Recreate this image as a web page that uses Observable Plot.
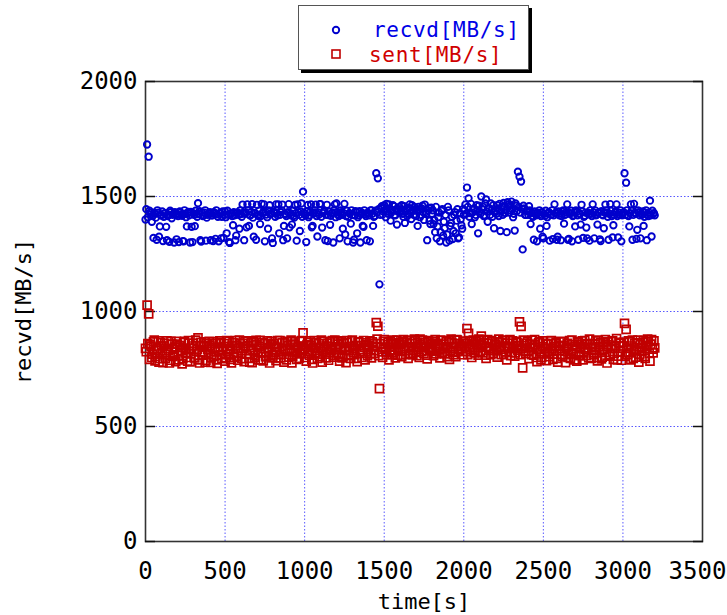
<!DOCTYPE html>
<html>
<head>
<meta charset="utf-8">
<script src="https://cdn.jsdelivr.net/npm/d3@7"></script>
<script src="https://cdn.jsdelivr.net/npm/@observablehq/plot@0.6"></script>
<style>
  html, body { margin: 0; padding: 0; background: #fff; }
  #wrap { position: relative; width: 727px; height: 615px; }
  #legend {
    position: absolute; left: 298px; top: 5px; width: 229px; height: 63px;
    background: #fff; border: 1px solid #555; box-shadow: 3px 3px 0 #000;
    font-family: "DejaVu Sans Mono", monospace; font-size: 21px; letter-spacing: 0.7px; line-height: 20px;
  }
  #legend .row { position: absolute; left: 0; white-space: nowrap; }
  #legend svg { position: absolute; }
</style>
</head>
<body>
<div id="wrap">
  <div id="chart"></div>
  <div id="legend">
    <svg style="left:30px;top:17px" width="14" height="14"><circle cx="7" cy="7" r="3.2" fill="none" stroke="#0000cc" stroke-width="1.9"/></svg>
    <span class="row" style="left:74px;top:14px;color:#0000e6">recvd[MB/s]</span>
    <svg style="left:30px;top:41px" width="14" height="14"><rect x="3" y="3" width="8" height="8" fill="none" stroke="#c00000" stroke-width="1.6"/></svg>
    <span class="row" style="left:70px;top:39px;color:#d00000">sent[MB/s]</span>
  </div>
</div>
<script>
const times = [
0,10,20,30,40,50,60,70,80,90,100,110,120,130,140,150,160,170,180,190,
200,210,220,230,240,250,260,270,280,290,300,310,320,330,340,350,360,370,380,390,
400,410,420,430,440,450,460,470,480,490,500,510,520,530,540,550,560,570,580,590,
600,610,620,630,640,650,660,670,680,690,700,710,720,730,740,750,760,770,780,790,
800,810,820,830,840,850,860,870,880,890,900,910,920,930,940,950,960,970,980,990,
1000,1010,1020,1030,1040,1050,1060,1070,1080,1090,1100,1110,1120,1130,1140,1150,1160,1170,1180,1190,
1200,1210,1220,1230,1240,1250,1260,1270,1280,1290,1300,1310,1320,1330,1340,1350,1360,1370,1380,1390,
1400,1410,1420,1430,1440,1450,1460,1470,1480,1490,1500,1510,1520,1530,1540,1550,1560,1570,1580,1590,
1600,1610,1620,1630,1640,1650,1660,1670,1680,1690,1700,1710,1720,1730,1740,1750,1760,1770,1780,1790,
1800,1810,1820,1830,1840,1850,1860,1870,1880,1890,1900,1910,1920,1930,1940,1950,1960,1970,1980,1990,
2000,2010,2020,2030,2040,2050,2060,2070,2080,2090,2100,2110,2120,2130,2140,2150,2160,2170,2180,2190,
2200,2210,2220,2230,2240,2250,2260,2270,2280,2290,2300,2310,2320,2330,2340,2350,2360,2370,2380,2390,
2400,2410,2420,2430,2440,2450,2460,2470,2480,2490,2500,2510,2520,2530,2540,2550,2560,2570,2580,2590,
2600,2610,2620,2630,2640,2650,2660,2670,2680,2690,2700,2710,2720,2730,2740,2750,2760,2770,2780,2790,
2800,2810,2820,2830,2840,2850,2860,2870,2880,2890,2900,2910,2920,2930,2940,2950,2960,2970,2980,2990,
3000,3010,3020,3030,3040,3050,3060,3070,3080,3090,3100,3110,3120,3130,3140,3150,3160,3170,3180,3190,
3200
];

const recvd = [
1400,1726,1673,1430,1390,1320,1425,1312,1430,1370,1418,1306,1427,1368,1415,1303,1432,1420,1300,1424,
1421,1302,1430,1416,1305,1425,1370,1433,1300,1368,1428,1371,1423,1471,1436,1304,1415,1430,1308,1420,
1425,1310,1418,1432,1316,1422,1305,1428,1412,1320,1435,1340,1420,1298,1427,1375,1418,1330,1431,1360,
1424,1465,1310,1430,1466,1372,1418,1467,1325,1427,1464,1415,1380,1468,1433,1305,1421,1360,1462,1426,
1298,1429,1466,1418,1340,1432,1465,1372,1422,1318,1467,1428,1378,1415,1463,1308,1431,1350,1470,1521,
1425,1302,1463,1418,1466,1372,1430,1465,1326,1421,1467,1365,1434,1310,1464,1419,1377,1428,1300,1466,
1470,1423,1318,1432,1360,1468,1415,1305,1428,1382,1420,1312,1436,1340,1418,1300,1430,1368,1424,1310,
1428,1305,1440,1372,1415,1601,1579,1118,1450,1422,1462,1410,1435,1466,1395,1440,1458,1418,1378,1445,
1430,1462,1412,1385,1448,1425,1466,1402,1438,1455,1415,1372,1444,1420,1460,1398,1432,1310,1450,1380,
1425,1380,1345,1318,1410,1305,1438,1330,1362,1300,1455,1308,1384,1315,1420,1340,1445,1322,1400,1360,
1420,1465,1539,1492,1428,1380,1445,1410,1462,1340,1435,1500,1455,1418,1487,1390,1448,1470,1412,1362,
1440,1462,1415,1350,1455,1472,1428,1345,1466,1440,1478,1410,1352,1460,1608,1586,1565,1270,1448,1420,
1435,1458,1380,1415,1312,1428,1305,1420,1360,1432,1318,1416,1372,1427,1308,1421,1315,1466,1430,1325,
1418,1310,1434,1382,1422,1466,1316,1428,1305,1419,1370,1433,1312,1424,1464,1320,1416,1365,1430,1308,
1425,1466,1318,1418,1378,1432,1306,1421,1362,1465,1428,1312,1467,1415,1375,1430,1466,1322,1420,1305,
1428,1601,1560,1418,1370,1466,1312,1468,1425,1355,1432,1318,1420,1372,1430,1310,1415,1482,1326,1424,
1418
];

const sent = [
840,1028,990,855,800,868,785,830,872,795,850,778,862,815,840,776,870,805,835,782,
858,790,845,772,866,820,800,874,781,840,862,798,826,885,776,852,810,868,788,835,
870,779,842,806,860,774,832,866,795,848,784,874,812,838,777,865,800,852,788,876,
818,862,782,846,872,796,830,778,868,808,855,790,875,820,785,860,805,842,776,870,
812,850,786,873,826,798,864,780,840,870,802,856,777,832,868,792,848,816,874,907,
838,784,866,810,852,776,874,822,796,860,842,780,870,814,848,788,868,830,802,876,
820,858,784,872,806,845,778,866,832,796,876,812,852,782,868,826,800,874,790,856,
836,872,798,860,818,952,936,665,845,800,878,826,856,790,870,812,862,798,876,832,
855,804,878,830,864,796,872,842,812,880,822,866,800,858,876,818,848,794,870,836,
862,808,878,826,852,798,874,838,816,868,845,792,880,822,860,804,876,834,850,812,
870,826,926,905,845,800,876,832,858,810,872,893,820,864,796,878,840,812,868,830,
856,802,880,836,866,814,874,790,848,878,822,862,806,870,832,955,935,755,852,818,
868,795,842,876,810,855,782,864,826,800,872,840,786,858,818,874,792,846,866,780,
830,870,804,852,778,862,836,796,876,815,848,784,868,824,858,790,874,808,842,880,
796,860,820,872,785,846,866,802,834,878,776,855,812,870,792,840,882,806,862,788,
850,948,922,812,868,790,876,834,802,864,780,856,826,874,796,848,868,784,878,820,
842
];

// second set of samples, taken halfway between the ones above
const times2 = [
5,15,25,35,45,55,65,75,85,95,105,115,125,135,145,155,165,175,185,195,
205,215,225,235,245,255,265,275,285,295,305,315,325,335,345,355,365,375,385,395,
405,415,425,435,445,455,465,475,485,495,505,515,525,535,545,555,565,575,585,595,
605,615,625,635,645,655,665,675,685,695,705,715,725,735,745,755,765,775,785,795,
805,815,825,835,845,855,865,875,885,895,905,915,925,935,945,955,965,975,985,995,
1005,1015,1025,1035,1045,1055,1065,1075,1085,1095,1105,1115,1125,1135,1145,1155,1165,1175,1185,1195,
1205,1215,1225,1235,1245,1255,1265,1275,1285,1295,1305,1315,1325,1335,1345,1355,1365,1375,1385,1395,
1405,1415,1425,1435,1445,1455,1465,1475,1485,1495,1505,1515,1525,1535,1545,1555,1565,1575,1585,1595,
1605,1615,1625,1635,1645,1655,1665,1675,1685,1695,1705,1715,1725,1735,1745,1755,1765,1775,1785,1795,
1805,1815,1825,1835,1845,1855,1865,1875,1885,1895,1905,1915,1925,1935,1945,1955,1965,1975,1985,1995,
2005,2015,2025,2035,2045,2055,2065,2075,2085,2095,2105,2115,2125,2135,2145,2155,2165,2175,2185,2195,
2205,2215,2225,2235,2245,2255,2265,2275,2285,2295,2305,2315,2325,2335,2345,2355,2365,2375,2385,2395,
2405,2415,2425,2435,2445,2455,2465,2475,2485,2495,2505,2515,2525,2535,2545,2555,2565,2575,2585,2595,
2605,2615,2625,2635,2645,2655,2665,2675,2685,2695,2705,2715,2725,2735,2745,2755,2765,2775,2785,2795,
2805,2815,2825,2835,2845,2855,2865,2875,2885,2895,2905,2915,2925,2935,2945,2955,2965,2975,2985,2995,
3005,3015,3025,3035,3045,3055,3065,3075,3085,3095,3105,3115,3125,3135,3145,3155,3165,3175,3185,3195
];

const recvd2 = [
1445,1410,1438,1422,1415,1430,1408,1440,1325,1418,1435,1412,1428,1310,1420,1438,1405,1425,1432,1314,
1415,1435,1422,1306,1440,1410,1428,1418,1433,1302,1420,1438,1412,1425,1310,1430,1418,1440,1408,1426,
1432,1418,1306,1425,1440,1412,1428,1318,1435,1420,1410,1438,1302,1425,1415,1432,1310,1428,1420,1440,
1412,1430,1425,1366,1440,1418,1433,1408,1428,1312,1420,1438,1415,1426,1466,1432,1410,1440,1422,1318,
1435,1412,1428,1466,1420,1440,1310,1425,1415,1432,1366,1418,1438,1408,1428,1466,1420,1435,1412,1430,
1418,1436,1410,1432,1366,1425,1440,1415,1430,1467,1412,1428,1438,1420,1306,1435,1416,1430,1440,1410,
1432,1415,1440,1420,1428,1335,1438,1412,1425,1440,1300,1418,1432,1410,1436,1424,1372,1440,1415,1430,
1418,1440,1425,1412,1438,1430,1445,1420,1458,1435,1442,1468,1425,1448,1430,1462,1420,1445,1435,1455,
1440,1425,1458,1435,1415,1450,1430,1462,1420,1445,1438,1455,1410,1448,1432,1465,1425,1440,1395,1452,
1440,1398,1455,1370,1430,1345,1445,1390,1420,1335,1440,1372,1412,1350,1432,1395,1318,1428,1375,1445,
1440,1425,1455,1412,1468,1430,1448,1420,1440,1460,1425,1445,1415,1470,1435,1450,1420,1442,1462,1430,
1425,1448,1468,1435,1420,1458,1440,1475,1430,1462,1445,1425,1470,1438,1455,1430,1446,1460,1420,1438,
1420,1440,1428,1412,1435,1418,1430,1440,1415,1325,1425,1438,1410,1432,1420,1440,1418,1428,1312,1435,
1428,1415,1440,1420,1432,1312,1425,1438,1415,1430,1440,1418,1426,1378,1435,1412,1430,1318,1422,1440,
1415,1432,1440,1420,1428,1314,1436,1418,1430,1440,1412,1425,1438,1322,1420,1435,1415,1430,1440,1418,
1432,1420,1440,1415,1428,1438,1420,1430,1316,1440,1418,1426,1435,1412,1440,1422,1430,1418,1438,1428
];

const sent2 = [
825,860,792,848,815,876,805,840,780,865,820,850,796,872,830,788,858,812,845,870,
808,852,830,795,870,840,784,862,818,850,800,876,835,790,866,822,846,780,860,815,
852,798,868,825,790,845,872,812,836,860,800,828,870,792,850,818,874,806,840,862,
795,840,870,815,852,780,864,832,800,875,822,848,790,866,838,804,872,828,856,798,
862,822,845,798,874,812,838,866,790,852,830,876,806,858,820,842,796,870,832,850,
800,856,828,872,792,844,816,866,838,804,876,826,850,798,862,820,840,874,810,846,
868,815,842,798,860,830,874,808,848,872,822,840,796,866,834,852,818,845,864,808,
852,816,868,830,846,880,808,860,824,870,838,812,866,845,820,876,832,856,810,864,
828,868,840,812,876,846,818,860,832,872,808,850,880,826,842,866,810,874,836,856,
832,870,816,862,840,876,822,858,846,804,872,830,866,812,848,878,826,860,838,870,
848,862,812,874,836,856,820,868,842,880,826,852,876,810,846,862,832,874,818,856,
830,868,844,812,876,850,826,862,838,808,872,846,820,866,852,812,840,876,828,862,
826,858,812,850,878,800,836,868,790,846,816,862,828,804,872,838,814,860,796,852,
850,812,868,826,845,800,874,818,856,790,838,866,808,848,872,820,836,860,798,856,
842,812,858,800,876,830,794,864,822,848,868,806,838,872,818,852,790,866,826,850,
866,806,840,872,820,850,796,862,830,876,812,842,866,804,852,880,818,858,836,872
];

const xTicks = [0, 500, 1000, 1500, 2000, 2500, 3000, 3500];
const yTicks = [0, 500, 1000, 1500, 2000];

const recvdData = times.map((t, i) => ({t, v: recvd[i]}))
  .concat(times2.map((t, i) => ({t, v: recvd2[i]})));
const sentData = times.map((t, i) => ({t, v: sent[i]}))
  .concat(times2.map((t, i) => ({t, v: sent2[i]})));

const fmt = d => String(d);
const gridStyle = {stroke: "#0000ff", strokeOpacity: 0.65, strokeDasharray: "1.5,2", strokeWidth: 1};

const chart = Plot.plot({
  width: 727,
  height: 615,
  marginLeft: 145,
  marginRight: 25,
  marginTop: 81,
  marginBottom: 74,
  x: {domain: [0, 3500]},
  y: {domain: [0, 2000]},
  style: {fontFamily: "'DejaVu Sans Mono', monospace", fontSize: "24px", color: "#000", background: "#fff", overflow: "visible"},
  marks: [
    Plot.gridX(xTicks.slice(1, -1), gridStyle),
    Plot.gridY(yTicks.slice(1, -1), gridStyle),
    Plot.frame({stroke: "#333", strokeWidth: 1.6}),
    Plot.axisY(yTicks, {anchor: "left", tickSize: 0, tickPadding: 8, fontSize: 24, tickFormat: fmt, label: null, fill: "#000"}),
    Plot.axisY(yTicks, {anchor: "left", tickSize: -10, tickFormat: () => "", label: null, stroke: "#111", strokeWidth: 1.5}),
    Plot.axisY(yTicks, {anchor: "right", tickSize: -10, tickFormat: () => "", label: null, stroke: "#111", strokeWidth: 1.5}),
    Plot.axisY({anchor: "left", ticks: [], tickSize: 0, label: "recvd[MB/s]", labelAnchor: "center", labelArrow: "none", labelOffset: 130, fontSize: 22}),
    Plot.axisX(xTicks.slice(0, -1), {anchor: "bottom", tickSize: 0, tickPadding: 20, fontSize: 24, tickFormat: fmt, label: null, fill: "#000"}),
    Plot.axisX(xTicks.slice(-1), {anchor: "bottom", tickSize: 0, tickPadding: 20, fontSize: 24, tickFormat: fmt, label: null, fill: "#000", dx: -5}),
    Plot.axisX({anchor: "bottom", ticks: [], tickSize: 0, label: "time[s]", labelAnchor: "center", labelArrow: "none", labelOffset: 67, fontSize: 22}),
    Plot.dot(recvdData, {x: "t", y: "v", r: 3.2, stroke: "#0000cc", strokeWidth: 1.9, fill: "none"}),
    Plot.dot(sentData, {x: "t", y: "v", symbol: "square", r: 4.5, stroke: "#c00000", strokeWidth: 1.7, fill: "none"})
  ]
});
document.getElementById("chart").appendChild(chart);
</script>
</body>
</html>
